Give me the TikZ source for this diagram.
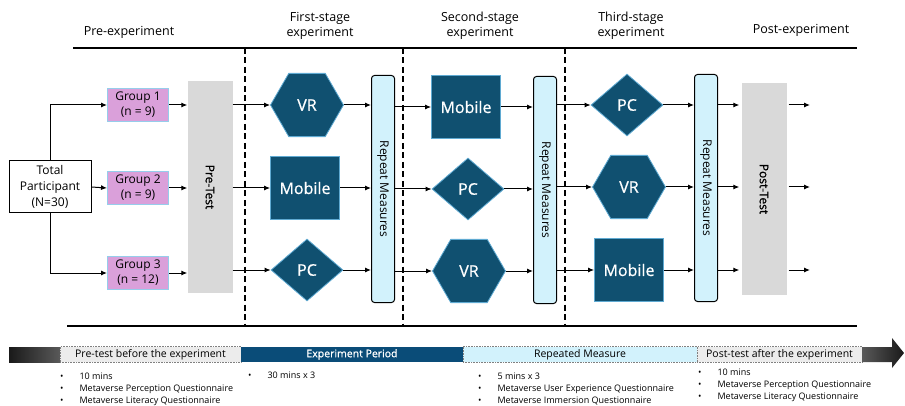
\documentclass[tikz,border=0pt]{standalone}
\usepackage{fontspec}
\usepackage{graphicx}
\setmainfont{Open Sans}
\newfontface\semib[FakeBold=0.8]{Open Sans}
\usetikzlibrary{shapes.geometric,arrows.meta}

\definecolor{shapeblue}{RGB}{16,80,112}
\definecolor{shapeedge}{RGB}{95,170,210}
\definecolor{groupfill}{RGB}{218,160,218}
\definecolor{groupedge}{RGB}{150,205,235}
\definecolor{pregray}{RGB}{217,217,217}
\definecolor{rmfill}{RGB}{210,242,252}
\definecolor{barblue}{RGB}{10,76,120}
\definecolor{barlight}{RGB}{236,236,236}

\newcommand{\bitem}[1]{\textbullet\hspace{16pt}#1}

\tikzset{
  heading/.style={align=center, font=\fontsize{12.5}{15}\selectfont},
  totalbox/.style={draw=black, line width=1pt, fill=white, minimum width=82pt, minimum height=52pt, align=center, inner sep=1pt, font=\fontsize{12}{16}\selectfont},
  groupbox/.style={draw=groupedge, line width=1pt, fill=groupfill, minimum width=61pt, minimum height=33pt, align=center, inner sep=1pt, font=\fontsize{12}{15}\selectfont},
  testbox/.style={fill=pregray, minimum width=45pt, minimum height=212pt, inner sep=0pt, font=\semib\fontsize{12}{14}\selectfont},
  rmbox/.style={draw=black, line width=1pt, rounded corners=3pt, fill=rmfill, minimum width=23pt, minimum height=227pt, inner sep=0pt, font=\fontsize{12}{14}\selectfont},
  device/.style={fill=shapeblue, draw=shapeedge, line width=0.8pt, text=white, inner sep=0pt, font=\semib\fontsize{16}{18}\selectfont},
  vrbox/.style={device, regular polygon, regular polygon sides=6, minimum size=73pt},
  pcbox/.style={device, diamond, minimum width=72pt, minimum height=62pt},
  mobbox/.style={device, rectangle, minimum width=69pt, minimum height=63pt},
  arr/.style={line width=1pt, -{Latex[length=6pt,width=5pt]}},
  tlbox/.style={draw=gray, densely dotted, line width=0.6pt, minimum height=15.5pt, inner sep=0pt, font=\fontsize{10.5}{12}\selectfont},
  notes/.style={anchor=north west, align=left, inner sep=0pt, font=\fontsize{9}{12}\selectfont}
}

\begin{document}
\begin{tikzpicture}[x=1pt,y=-1pt]
  \useasboundingbox (0,0) rectangle (905,406);

  % Phase headings
  \node[heading] (hpre) at (129,32) {Pre-experiment};
  \node[heading] (hfirst) at (320,26) {First-stage\\experiment};
  \node[heading] (hsecond) at (480,26) {Second-stage\\experiment};
  \node[heading] (hthird) at (631,26) {Third-stage\\experiment};
  \node[heading] (hpost) at (801,30) {Post-experiment};

  % Frame lines
  \draw[line width=1.2pt] (73,48) -- (857,48);
  \draw[line width=1.2pt] (67,326) -- (857,326);
  \foreach \x in {245,403,565}
    \draw[line width=1.2pt, dash pattern=on 6pt off 3.5pt] (\x,48) -- (\x,326);

  % Participants and groups
  \node[totalbox] (total) at (50,187) {Total\\Participant\\(N=30)};
  \node[groupbox] (g1) at (138,105) {Group 1\\(n = 9)};
  \node[groupbox] (g2) at (138,188) {Group 2\\(n = 9)};
  \node[groupbox] (g3) at (138,273) {Group 3\\(n = 12)};
  \draw[arr] (total.north) |- (g1.west);
  \draw[arr] (total.east) -- (g2.west);
  \draw[arr] (total.south) |- (g3.west);

  % Pre-test
  \node[testbox] (pre) at (210,187) {\rotatebox{-90}{Pre-Test}};
  \foreach \g in {g1,g2,g3}
    \draw[arr] (\g.east) -- (\g.east -| pre.west);

  % First stage
  \node[vrbox] (vr1) at (307,105) {VR};
  \node[mobbox] (mob1) at (305,188) {Mobile};
  \node[pcbox] (pc1) at (307,270) {PC};
  \node[rmbox] (rm1) at (383,189) {\rotatebox{-90}{Repeat Measures}};
  \foreach \s in {vr1,mob1,pc1} {
    \draw[arr] (\s.west -| pre.east) -- (\s.west);
    \draw[arr] (\s.east) -- (\s.east -| rm1.west);
  }

  % Second stage
  \node[mobbox] (mob2) at (466,107) {Mobile};
  \node[pcbox] (pc2) at (468,189) {PC};
  \node[vrbox] (vr2) at (469,271) {VR};
  \node[rmbox] (rm2) at (545,190) {\rotatebox{-90}{Repeat Measures}};
  \foreach \s in {mob2,pc2,vr2} {
    \draw[arr] (\s.west -| rm1.east) -- (\s.west);
    \draw[arr] (\s.east) -- (\s.east -| rm2.west);
  }

  % Third stage
  \node[pcbox] (pc3) at (627,105) {PC};
  \node[vrbox] (vr3) at (629,187) {VR};
  \node[mobbox] (mob3) at (629,270) {Mobile};
  \node[rmbox] (rm3) at (706,188) {\rotatebox{-90}{Repeat Measures}};
  \foreach \s in {pc3,vr3,mob3} {
    \draw[arr] (\s.west -| rm2.east) -- (\s.west);
    \draw[arr] (\s.east) -- (\s.east -| rm3.west);
  }

  % Post-test
  \node[testbox] (post) at (764,189) {\rotatebox{-90}{Post-Test}};
  \coordinate (out1) at (810,105);
  \coordinate (out2) at (810,187);
  \coordinate (out3) at (810,270);
  \foreach \s in {pc3,vr3,mob3}
    \draw[arr, shorten >=2pt] (\s.east -| rm3.east) -- (\s.east -| post.west);
  \foreach \o in {out1,out2,out3}
    \draw[arr, shorten <=2pt] (\o -| post.east) -- (\o);

  % Time line
  \shade[left color=black!90, right color=black!65] (9,347) rectangle (60,362);
  \node[tlbox, fill=barlight, minimum width=181pt] (tpre) at (150.5,354.5) {Pre-test before the experiment};
  \node[tlbox, fill=barblue, draw=none, text=white, minimum width=222pt, font=\semib\fontsize{10.5}{12}\selectfont] (texp) at (352,354.5) {Experiment Period};
  \node[tlbox, fill=rmfill, minimum width=234pt] (trep) at (580,354.5) {Repeated Measure};
  \node[tlbox, fill=barlight, minimum width=165pt] (tpost) at (779.5,354.5) {Post-test after the experiment};
  \shade[left color=black!65, right color=black!90] (862,347) -- (892,347) -- (892,338) -- (904,353) -- (892,368) -- (892,362) -- (862,362) -- cycle;

  % Notes
  \node[notes] (npre) at (60,373) {\bitem{10 mins}\\\bitem{Metaverse Perception Questionnaire}\\\bitem{Metaverse Literacy Questionnaire}};
  \node[notes] (nexp) at (248,372) {\bitem{30 mins x 3}};
  \node[notes] (nrep) at (478,373) {\bitem{5 mins x 3}\\\bitem{Metaverse User Experience Questionnaire}\\\bitem{Metaverse Immersion Questionnaire}};
  \node[notes] (npost) at (698,369) {\bitem{10 mins}\\\bitem{Metaverse Perception Questionnaire}\\\bitem{Metaverse Literacy Questionnaire}};
\end{tikzpicture}
\end{document}
